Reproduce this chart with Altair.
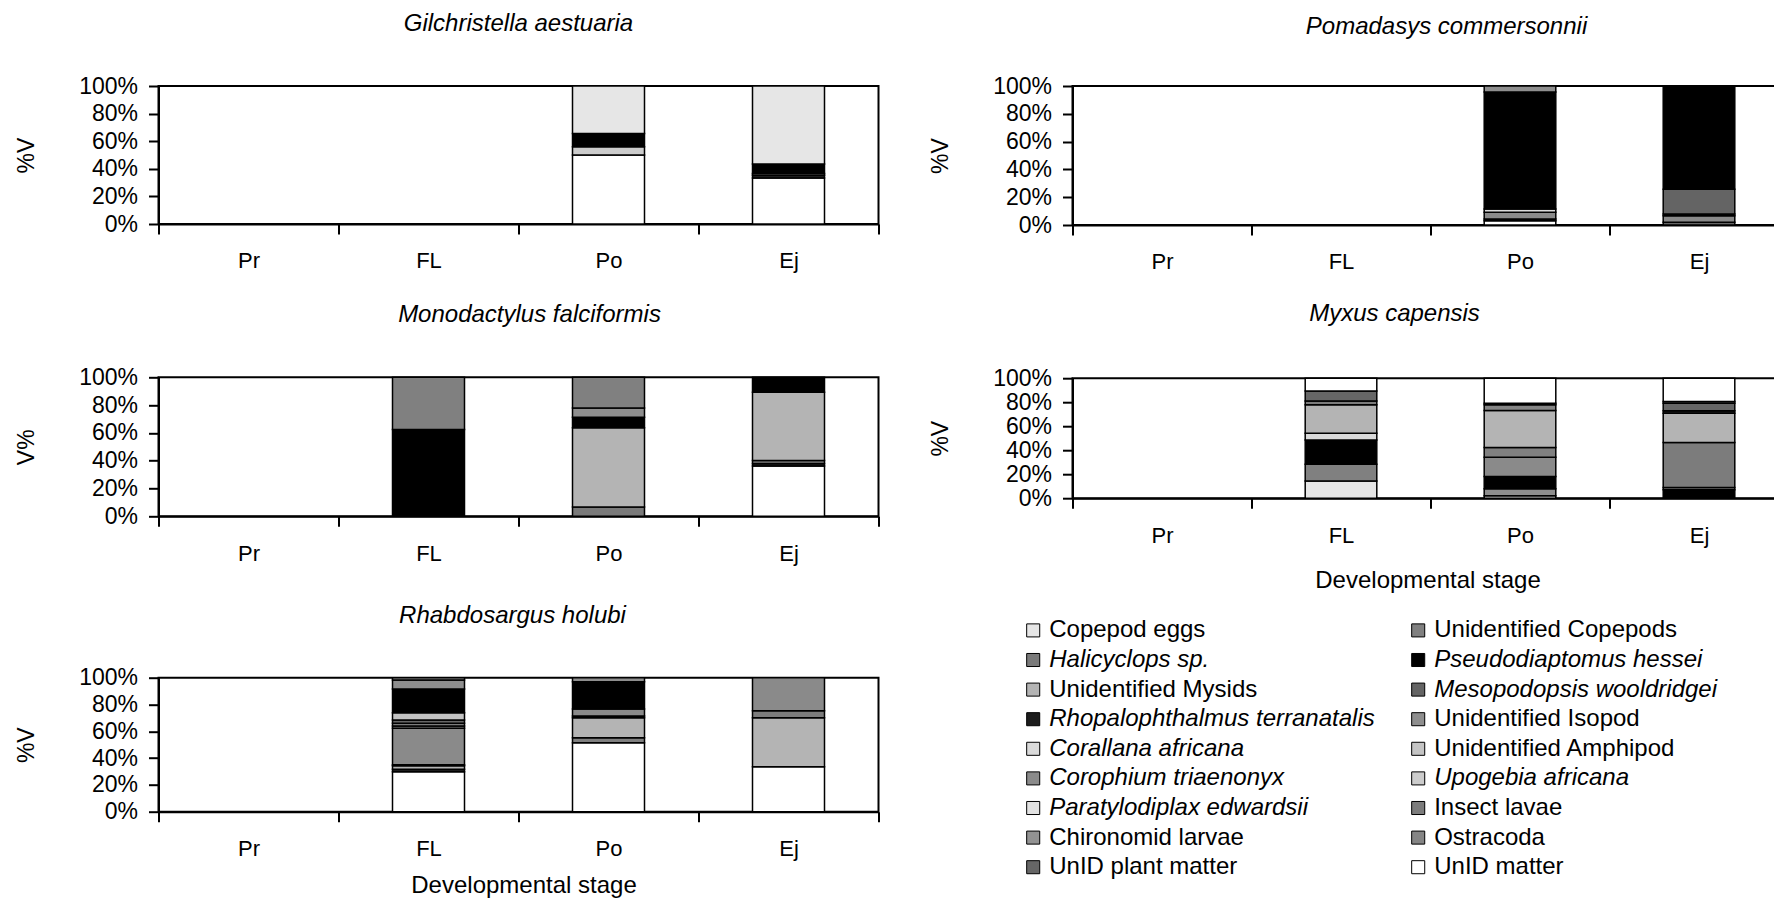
import json
import altair as alt
import pandas as pd

STAGES = ["Pr", "FL", "Po", "Ej"]

# Prey categories in legend order (row-major, two columns)
PREY = [
    "Copepod eggs", "Unidentified Copepods",
    "Halicyclops sp.", "Pseudodiaptomus hessei",
    "Unidentified Mysids", "Mesopodopsis wooldridgei",
    "Rhopalophthalmus terranatalis", "Unidentified Isopod",
    "Corallana africana", "Unidentified Amphipod",
    "Corophium triaenonyx", "Upogebia africana",
    "Paratylodiplax edwardsii", "Insect lavae",
    "Chironomid larvae", "Ostracoda",
    "UnID plant matter", "UnID matter",
]
PREY_GREYS = [
    "#e6e6e6", "#808080",
    "#7a7a7a", "#000000",
    "#b4b4b4", "#646464",
    "#1c1c1c", "#8e8e8e",
    "#dadada", "#c4c4c4",
    "#8a8a8a", "#cccccc",
    "#e2e2e2", "#7c7c7c",
    "#939393", "#858585",
    "#666666", "#ffffff",
]
ITALIC_PREY = [
    "Halicyclops sp.", "Pseudodiaptomus hessei", "Mesopodopsis wooldridgei",
    "Rhopalophthalmus terranatalis", "Corallana africana", "Corophium triaenonyx",
    "Upogebia africana", "Paratylodiplax edwardsii",
]

# %V per bar, listed bottom -> top as (prey, value)
GIL_PO = [("UnID matter", 50.0), ("Upogebia africana", 6.0),
          ("Pseudodiaptomus hessei", 9.5), ("Copepod eggs", 34.5)]
GIL_EJ = [("UnID matter", 33.3), ("Rhopalophthalmus terranatalis", 2.1),
          ("Upogebia africana", 1.2), ("Pseudodiaptomus hessei", 6.8),
          ("Copepod eggs", 56.6)]

MON_FL = [("Pseudodiaptomus hessei", 62.5), ("Unidentified Copepods", 37.5)]
MON_PO = [("Halicyclops sp.", 6.7), ("Unidentified Mysids", 57.0),
          ("Pseudodiaptomus hessei", 7.6), ("Unidentified Isopod", 6.7),
          ("Unidentified Copepods", 22.0)]
MON_EJ = [("UnID matter", 36.1), ("Rhopalophthalmus terranatalis", 1.9),
          ("Ostracoda", 2.2), ("Unidentified Mysids", 49.0),
          ("Pseudodiaptomus hessei", 10.8)]

RHA_FL = [("UnID matter", 29.9), ("Rhopalophthalmus terranatalis", 1.7),
          ("Unidentified Mysids", 2.7), ("Halicyclops sp.", 0.7),
          ("Corophium triaenonyx", 27.2), ("Ostracoda", 1.8),
          ("Insect lavae", 2.0), ("UnID plant matter", 2.4),
          ("Unidentified Amphipod", 5.5), ("Pseudodiaptomus hessei", 17.7),
          ("Unidentified Isopod", 6.7), ("Chironomid larvae", 1.7)]
RHA_PO = [("UnID matter", 51.5), ("Unidentified Copepods", 3.7),
          ("Unidentified Mysids", 14.9), ("Rhopalophthalmus terranatalis", 1.3),
          ("Corophium triaenonyx", 5.2), ("Pseudodiaptomus hessei", 20.4),
          ("Unidentified Isopod", 3.0)]
RHA_EJ = [("UnID matter", 33.6), ("Unidentified Mysids", 36.5),
          ("Insect lavae", 5.3), ("Corophium triaenonyx", 24.6)]

POM_PO = [("UnID matter", 3.1), ("Rhopalophthalmus terranatalis", 1.2),
          ("Corophium triaenonyx", 4.8), ("Corallana africana", 2.4),
          ("Pseudodiaptomus hessei", 84.2), ("Unidentified Isopod", 4.3)]
POM_EJ = [("UnID plant matter", 1.9), ("Corophium triaenonyx", 4.8),
          ("Rhopalophthalmus terranatalis", 1.2), ("Mesopodopsis wooldridgei", 17.9),
          ("Pseudodiaptomus hessei", 74.2)]

MYX_FL = [("Copepod eggs", 14.4), ("Unidentified Copepods", 13.9),
          ("Pseudodiaptomus hessei", 20.3), ("Corallana africana", 5.6),
          ("Unidentified Mysids", 23.6), ("Insect lavae", 3.3),
          ("UnID plant matter", 8.3), ("UnID matter", 10.6)]
MYX_PO = [("Paratylodiplax edwardsii", 2.0), ("Unidentified Isopod", 5.8),
          ("Pseudodiaptomus hessei", 10.3), ("Corophium triaenonyx", 16.1),
          ("Unidentified Copepods", 8.0), ("Unidentified Mysids", 30.9),
          ("Ostracoda", 4.7), ("Rhopalophthalmus terranatalis", 1.4),
          ("UnID matter", 20.8)]
MYX_EJ = [("Pseudodiaptomus hessei", 7.0), ("Ostracoda", 1.9),
          ("Insect lavae", 37.5), ("Unidentified Mysids", 24.4),
          ("Rhopalophthalmus terranatalis", 2.0), ("UnID plant matter", 6.4),
          ("Halicyclops sp.", 1.4), ("UnID matter", 19.4)]

FONT = "Liberation Sans"

italic_expr = ("indexof(" + json.dumps(ITALIC_PREY) +
               ", datum.label) >= 0 ? 'italic' : 'normal'")

LEGEND = alt.Legend(
    orient="none", legendX=862.7, legendY=532.4, columns=2, direction="horizontal",
    title=None, symbolType="square", symbolSize=170, symbolStrokeColor="black",
    symbolStrokeWidth=1, labelFont=FONT, labelFontSize=24, labelLimit=500,
    labelOffset=4, rowPadding=5.6, columnPadding=31, padding=0,
    gridAlign="each", labelColor="black",
    labelFontStyle=alt.ExprRef(expr=italic_expr),
)


def bars_df(bars):
    rows = []
    for stage, segs in bars.items():
        for i, (prey, v) in enumerate(segs):
            rows.append({"stage": stage, "prey": prey, "value": v, "order": i})
    return pd.DataFrame(rows)


def panel(bars, title, width, height, ytitle="%V", xtitle=None, xtitle_y=80.5,
          xtitle_x=None, title_x=None, title_y=-62, ghost_y=None):
    df = bars_df(bars)
    if title_x is None:
        title_x = width / 2
    if xtitle_x is None:
        xtitle_x = width / 2
    xaxis = dict(
        labelAngle=0, labelFontSize=22, labelFont=FONT, labelColor="black",
        labelBaseline="alphabetic", labelPadding=33.8, tickSize=10,
        tickBand="extent", tickColor="black", tickWidth=2,
        domainColor="black", domainWidth=2, grid=False,
    )
    if xtitle:
        xaxis.update(title=xtitle, titleFont=FONT, titleFontSize=24,
                     titleFontWeight="normal", titleColor="black",
                     titleX=xtitle_x, titleY=xtitle_y,
                     titleBaseline="alphabetic", titleAlign="center")
    else:
        xaxis.update(title=None)
    bars_chart = alt.Chart(df).mark_bar(
        stroke="black", strokeWidth=1.5, width=alt.RelativeBandSize(0.4)
    ).encode(
        x=alt.X("stage:N",
                scale=alt.Scale(domain=STAGES, paddingInner=0, paddingOuter=0),
                axis=alt.Axis(**xaxis)),
        y=alt.Y("value:Q", stack="normalize",
                scale=alt.Scale(domain=[0, 1], nice=False),
                axis=alt.Axis(
                    format=".0%", values=[0, 0.2, 0.4, 0.6, 0.8, 1.0],
                    labelFontSize=23, labelFont=FONT, labelColor="black",
                    labelPadding=11, tickSize=10, tickColor="black", tickWidth=2,
                    domainColor="black", domainWidth=2, grid=False,
                    title=ytitle, titleFont=FONT, titleFontSize=23,
                    titleFontWeight="normal", titleColor="black",
                    titleAngle=270, titleX=-132, titleY=height / 2,
                    titleBaseline="middle", titleAlign="center")),
        color=alt.Color("prey:N",
                        scale=alt.Scale(domain=PREY, range=PREY_GREYS),
                        legend=LEGEND),
        order=alt.Order("order:Q", sort="ascending"),
    )
    tdf = pd.DataFrame({"t": [title]})
    layers = [bars_chart]
    if ghost_y is not None:
        # invisible copy keeps the panel's outer bounds unchanged
        layers.append(alt.Chart(tdf).mark_text(
            font=FONT, fontSize=24, fontStyle="italic", baseline="middle",
            align="center", opacity=0,
        ).encode(text="t:N", x=alt.value(title_x), y=alt.value(ghost_y)))
    layers.append(alt.Chart(tdf).mark_text(
        font=FONT, fontSize=24, fontStyle="italic", baseline="middle",
        align="center", color="black",
    ).encode(text="t:N", x=alt.value(title_x), y=alt.value(title_y)))
    return alt.layer(*layers).properties(width=width, height=height)


LW = 720
RW = 716  # right column runs past the page edge, as in the original

p_gil = panel({"Po": GIL_PO, "Ej": GIL_EJ}, "Gilchristella aestuaria", LW, 138,
              title_x=360)
p_mon = panel({"FL": MON_FL, "Po": MON_PO, "Ej": MON_EJ},
              "Monodactylus falciformis", LW, 139, ytitle="V%", title_x=371)
p_rha = panel({"FL": RHA_FL, "Po": RHA_PO, "Ej": RHA_EJ}, "Rhabdosargus holubi",
              LW, 134, xtitle="Developmental stage", xtitle_y=80.5,
              xtitle_x=365, title_x=354)
p_pom = panel({"Po": POM_PO, "Ej": POM_EJ}, "Pomadasys commersonnii", RW, 139,
              title_x=374, title_y=-58.6, ghost_y=-62)
p_myx = panel({"FL": MYX_FL, "Po": MYX_PO, "Ej": MYX_EJ}, "Myxus capensis",
              RW, 120, xtitle="Developmental stage", xtitle_y=89, xtitle_x=355,
              title_x=322, title_y=-64.5)

left = alt.vconcat(alt.vconcat(p_gil, p_mon, spacing=29.3), p_rha, spacing=36.7)
right = alt.vconcat(p_pom, p_myx, spacing=26.2)

chart = alt.hconcat(left, right, spacing=48).properties(
    padding={"left": 14.5, "top": 11, "right": -17, "bottom": 0},
    background="white",
).configure(font=FONT).configure_view(stroke="black", strokeWidth=2)

chart.save("out.html", embed_options={"renderer": "svg", "actions": False})
